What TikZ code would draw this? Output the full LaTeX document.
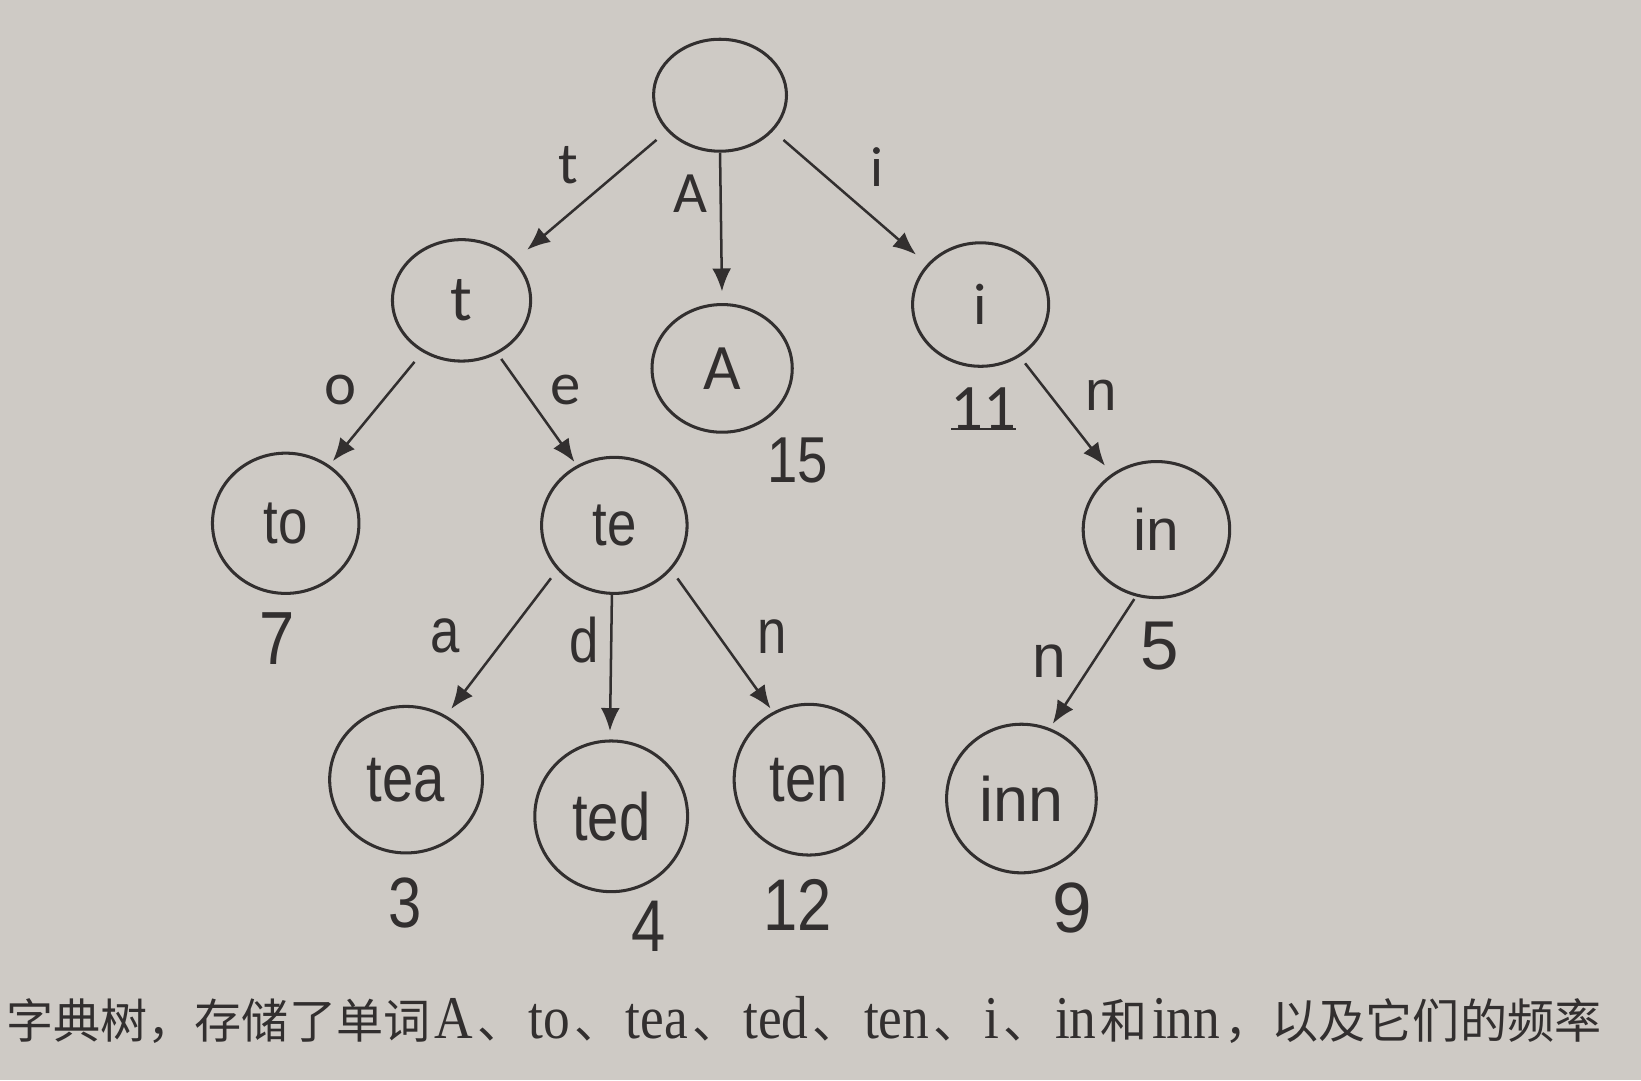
\documentclass[tikz,border=0pt]{standalone}
\usepackage{fontspec}
\usetikzlibrary{arrows.meta,shapes.geometric}
\setmainfont{Liberation Sans}
\newfontfamily\narrowf[FakeStretch=0.84]{Liberation Sans}
\newfontfamily\regf{Liberation Sans}
\newfontfamily\calf{Carlito}
\newfontfamily\cjk{Noto Sans CJK SC}
\newfontfamily\serf[FakeStretch=0.88]{Liberation Serif}
\definecolor{paper}{RGB}{206,202,197}
\definecolor{ink}{RGB}{50,47,47}
\newcommand{\fs}[1]{\fontsize{#1}{#1}\selectfont}
\newcommand{\lw}[1]{\hspace{4pt}{\serf\fontsize{58}{58}\selectfont #1}\hspace{4pt}}
\tikzset{
  tnode/.style={draw=ink, line width=2.9pt, ellipse, inner sep=0pt, text=ink},
  tedge/.style={draw=ink, line width=2.4pt, -{Latex[length=22pt,width=18pt]}},
  tlab/.style={text=ink, inner sep=0pt, anchor=center},
}
\begin{document}
\begin{tikzpicture}[x=1pt,y=-1pt]
\fill[paper] (0,0) rectangle (1568,1032);
\useasboundingbox (0,0) rectangle (1568,1032);
% nodes
\node[tnode, minimum width=127pt, minimum height=107pt] (root) at (688,91) {};
\node[tnode, minimum width=132pt, minimum height=116pt, font=\calf\fs{62}] (t) at (441,287) {t};
\node[tnode, minimum width=134pt, minimum height=122pt, font=\calf\fs{62}] (A) at (690,352) {A};
\node[tnode, minimum width=130pt, minimum height=118pt, font=\calf\fs{56}] (i) at (937,291) {i};
\node[tnode, minimum width=140pt, minimum height=134pt, font=\narrowf\fs{60}] (to) at (273,500) {to};
\node[tnode, minimum width=139pt, minimum height=130pt, font=\narrowf\fs{60}] (te) at (587,502) {te};
\node[tnode, minimum width=140pt, minimum height=130pt, font=\regf\fs{56}] (in) at (1105,506) {in};
\node[tnode, minimum width=146pt, minimum height=140pt, font=\narrowf\fs{64}] (tea) at (388,745) {tea};
\node[tnode, minimum width=146pt, minimum height=144pt, font=\narrowf\fs{64}] (ted) at (584,780) {ted};
\node[tnode, minimum width=143pt, minimum height=144pt, font=\narrowf\fs{64}] (ten) at (773,745) {ten};
\node[tnode, minimum width=143pt, minimum height=142pt, font=\regf\fs{60}] (inn) at (976,763) {inn};
% edges
\draw[tedge, shorten <=13pt, shorten >=15pt] (root.214) -- (t.37);
\draw[tedge, shorten >=11pt] (root.south) -- (A.north);
\draw[tedge, shorten <=13pt, shorten >=14pt] (root.326) -- (i.143);
\draw[tedge, shorten <=12pt, shorten >=5pt] (t.233) -- (to.53);
\draw[tedge, shorten <=6pt, shorten >=4pt] (t.304) -- (te.122);
\draw[tedge, shorten <=8pt, shorten >=10pt] (i.307) -- (in.129);
\draw[tedge, shorten <=10pt, shorten >=8pt] (te.218) -- (tea.58);
\draw[tedge, shorten >=8pt] (te.268) -- (ted.91);
\draw[tedge, shorten <=10pt, shorten >=4pt] (te.322) -- (ten.118);
\draw[tedge, shorten <=3pt, shorten >=5pt] (in.253) -- (inn.68);
% edge labels
\node[tlab, font=\calf\fs{56}] (lt) at (543,158) {t};
\node[tlab, font=\calf\fs{56}] (lA) at (660,185) {A};
\node[tlab, font=\calf\fs{54}] (li) at (838,160) {i};
\node[tlab, font=\calf\fs{58}] (lo) at (325,373) {o};
\node[tlab, font=\calf\fs{58}] (le) at (540,373) {e};
\node[tlab, font=\regf\fs{54}] (ln1) at (1052,378) {n};
\node[tlab, font=\narrowf\fs{60}] (la) at (425,608) {a};
\node[tlab, font=\narrowf\fs{60}] (ld) at (558,612) {d};
\node[tlab, font=\narrowf\fs{60}] (ln2) at (738,608) {n};
\node[tlab, font=\regf\fs{58}] (ln3) at (1003,632) {n};
% frequencies
\node[tlab, font=\narrowf\fs{62}] (f15) at (762,440) {15};
\node[tlab, font=\calf\fs{62}] (f11) at (940,390) {11};
\draw[ink, line width=2.4pt] ([xshift=-31pt,yshift=-20pt]f11.center) -- ([xshift=31pt,yshift=-20pt]f11.center);
\node[tlab, font=\narrowf\fs{72}] (f7) at (265,610) {7};
\node[tlab, font=\regf\fs{66}] (f5) at (1108,617) {5};
\node[tlab, font=\narrowf\fs{68}] (f3) at (387,863) {3};
\node[tlab, font=\narrowf\fs{70}] (f4) at (620,885) {4};
\node[tlab, font=\narrowf\fs{70}] (f12) at (762,865) {12};
\node[tlab, font=\regf\fs{68}] (f9) at (1025,868) {9};
% caption
\node[tlab, anchor=west, font=\fs{45}] (cap) at (6,975) {\cjk 字典树，存储了单词\lw{A}、\lw{to}、\lw{tea}、\lw{ted}、\lw{ten}、\lw{i}、\lw{in}和\lw{inn}，以及它们的频率};
\end{tikzpicture}
\end{document}
